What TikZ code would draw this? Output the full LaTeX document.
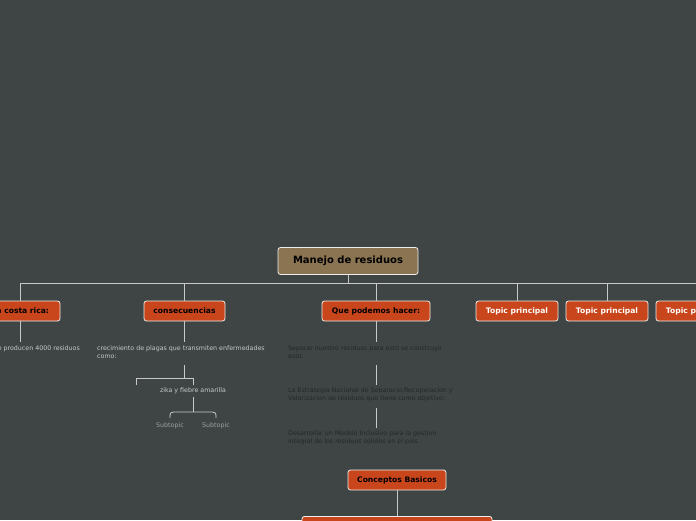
\documentclass[tikz,border=0pt]{standalone}
\usepackage{fontspec}
\setmainfont{DejaVu Sans}
\usetikzlibrary{positioning}
\definecolor{bgc}{HTML}{3F4545}
\definecolor{topc}{HTML}{C9461C}
\definecolor{mainc}{HTML}{8A7452}
\definecolor{linec}{HTML}{C8C8C8}
\tikzset{
  topic/.style={draw=white!85!gray, line width=0.8pt, rounded corners=2.5pt, fill=topc, minimum height=20pt, inner xsep=4pt, font=\fontsize{7.6}{8}\selectfont\bfseries},
  note/.style={align=left, anchor=north west, inner sep=0pt, font=\fontsize{6.3}{7.8}\selectfont},
  link/.style={linec, line width=0.8pt}
}
\begin{document}
\begin{tikzpicture}[x=1pt,y=-1pt]
	\fill[bgc] (0,0) rectangle (696,520);
	\useasboundingbox (0,0) rectangle (696,520);
	\clip (0,0) rectangle (696,520);
	
	\node[topic, fill=mainc, minimum width=140pt, minimum height=27pt, font=\fontsize{10}{11}\selectfont\bfseries] (main) at (348,261) {Manejo de residuos};
	
	\node[topic, minimum width=80pt] (costa) at (20,311) {En costa rica:};
	\node[topic, minimum width=81pt] (cons) at (184.5,311) {consecuencias};
	\node[topic, minimum width=108pt] (hacer) at (376,311) {Que podemos hacer:};
	\node[topic, minimum width=82pt, text=white] (tp1) at (517,311) {Topic principal};
	\node[topic, minimum width=82pt, text=white] (tp2) at (607,311) {Topic principal};
	\node[topic, minimum width=82pt, text=white] (tp3) at (697,311) {Topic principal};
	
	\draw[link] (main.south) -- (348,283);
	\draw[link] (costa.north) -- (20,283) -- (tp3.north |- 0,283) -- (tp3.north);
	\foreach \t in {cons,hacer,tp1,tp2}
		\draw[link] (\t.north) -- (\t.north |- 0,283);
	
	% costa rica
	\node[note, text=linec, anchor=north east] (prod) at (80,346) {se producen 4000 residuos};
	\draw[link] (costa.south) -- (20,342);
	
	% consecuencias
	\node[note, text=linec] (plagas) at (97,346) {crecimiento de plagas que transmiten enfermedades\\como:};
	\draw[link] (cons.south) -- (184.5,342);
	\node[note, text=linec, anchor=north] (zika) at (193,388) {zika y fiebre amarilla};
	\draw[link] (184.5,365) -- (184.5,378);
	\draw[link] (136,385) -- (136,378) -- (193,378) -- (193,385);
	\node[note, text=linec!80!black, anchor=north] (sub1) at (170,423) {Subtopic};
	\node[note, text=linec!80!black, anchor=north] (sub2) at (216,423) {Subtopic};
	\draw[link] (193,397) -- (193,412);
	\draw[link] (170,418) .. controls (170,412) .. (178,412) -- (208,412) .. controls (216,412) .. (216,418);
	
	% que podemos hacer
	\node[note, text=black!85] (separar) at (288,346) {Separar nuestro residuos para esto se construyo\\esto:};
	\node[note, text=black!85] (estrategia) at (288,388) {La Estrategia Nacional de Separacio,Recuperacion y\\Valorizacion de residuos que tiene como objetivo;};
	\node[note, text=black!85] (modelo) at (288,431) {Desarrollar un Modelo Inclusivo para la gestion\\integral de los residuos solidos en el pais};
	\draw[link] (hacer.south) -- (376,342);
	\draw[link] (376,365) -- (376,385);
	\draw[link] (376,408) -- (376,428);
	
	\node[topic, minimum width=98pt] (conceptos) at (397,480) {Conceptos Basicos};
	\node[topic, minimum width=190pt, anchor=north] (next) at (397,516) {\phantom{X}};
	\draw[link] (conceptos.south) -- (next.north);
\end{tikzpicture}
\end{document}
